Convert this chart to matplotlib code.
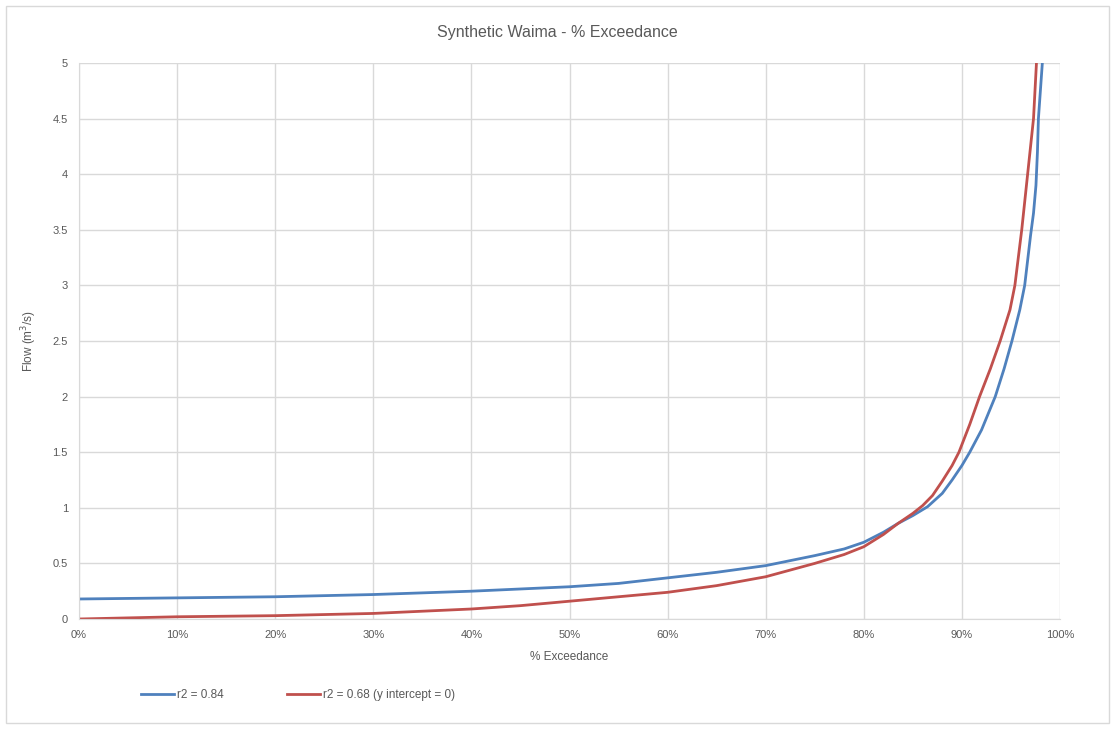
import numpy as np
import matplotlib
matplotlib.use("Agg")
import matplotlib.pyplot as plt
from matplotlib.patches import Rectangle
from matplotlib.ticker import FuncFormatter, MultipleLocator

##
#    Data (percent exceedance vs flow)
##
pct_blue = [0, 5, 10, 15, 20, 25, 30, 35, 40, 45, 50, 55, 60, 65, 70, 75, 78, 80, 82,
            83.5, 85, 86.5, 88, 89, 90, 90.8, 92, 93.4, 94.3, 95.1, 95.9, 96.4, 97.0,
            97.3, 97.55, 97.7, 97.8, 98.0, 98.2, 98.4]
flow_blue = [0.18, 0.185, 0.19, 0.195, 0.20, 0.21, 0.22, 0.235, 0.25, 0.27, 0.29, 0.32,
             0.37, 0.42, 0.48, 0.57, 0.63, 0.69, 0.78, 0.86, 0.93, 1.01, 1.13, 1.25,
             1.38, 1.5, 1.7, 2.0, 2.25, 2.5, 2.78, 3.0, 3.45, 3.65, 3.9, 4.2, 4.5,
             4.75, 5.0, 5.3]

pct_red = [0, 5, 10, 15, 20, 25, 30, 35, 40, 45, 50, 55, 60, 65, 70, 75, 78, 80, 82,
           83.5, 85, 86, 87, 88, 89, 89.7, 90.8, 91.8, 92.9, 93.9, 94.9, 95.4, 96.1,
           96.7, 97.3, 97.6, 97.7]
flow_red = [0.0, 0.01, 0.02, 0.025, 0.03, 0.04, 0.05, 0.07, 0.09, 0.12, 0.16, 0.20,
            0.24, 0.30, 0.38, 0.50, 0.58, 0.65, 0.76, 0.86, 0.95, 1.02, 1.11, 1.24, 1.38,
            1.5, 1.75, 2.0, 2.25, 2.5, 2.78, 3.0, 3.5, 4.0, 4.5, 5.0, 5.3]

series_labels = ["r2 = 0.84", "r2 = 0.68 (y intercept = 0)"]
series_colors = ["#4F81BD", "#C0504D"]

txt = "#595959"
grid = "#D9D9D9"
plt.rcParams['font.family'] = ['Liberation Sans', 'DejaVu Sans']

fig = plt.figure(figsize=(11.15, 7.29), dpi=100)
fig.patches.append(Rectangle((6 / 1115, 6 / 729), 1 - 12 / 1115, 1 - 12 / 729,
                             transform=fig.transFigure, fill=False,
                             edgecolor="#D9D9D9", linewidth=1.0))

ax = fig.add_axes([79 / 1115, 110 / 729, 981 / 1115, 556 / 729])
l1, = ax.plot(np.array(pct_blue) / 100, flow_blue, color=series_colors[0],
              linewidth=2.0, solid_joinstyle="round")
l2, = ax.plot(np.array(pct_red) / 100, flow_red, color=series_colors[1],
              linewidth=2.0, solid_joinstyle="round")

ax.set_xlim(0, 1)
ax.set_ylim(0, 5)
ax.xaxis.set_major_locator(MultipleLocator(0.1))
ax.yaxis.set_major_locator(MultipleLocator(0.5))
ax.xaxis.set_major_formatter(FuncFormatter(lambda v, p: "%d%%" % round(v * 100)))
ax.yaxis.set_major_formatter(FuncFormatter(lambda v, p: "%g" % v))
ax.grid(True, color=grid, linewidth=1.0)
ax.set_axisbelow(True)
for s in ["top", "right"]:
    ax.spines[s].set_visible(False)
for s in ["left", "bottom"]:
    ax.spines[s].set_color(grid)
ax.tick_params(length=0, labelsize=8, colors=txt, pad=8)

ax.set_xlabel("% Exceedance", fontsize=8.5, color=txt, labelpad=8)
ax.set_ylabel("Flow (m$^3$/s)", fontsize=8.5, color=txt, labelpad=10)
fig.text(557 / 1115, 1 - 33 / 729, "Synthetic Waima - % Exceedance", ha="center",
         va="center", fontsize=11.5, color=txt)

leg = fig.legend([l1, l2], series_labels, loc="center left",
                 bbox_to_anchor=(130 / 1115, 1 - 695 / 729), ncol=2, frameon=False,
                 fontsize=8.5, handlelength=2.8, handletextpad=0.3, columnspacing=5.3)
for t in leg.get_texts():
    t.set_color(txt)

fig.savefig("out.png", dpi=100)
